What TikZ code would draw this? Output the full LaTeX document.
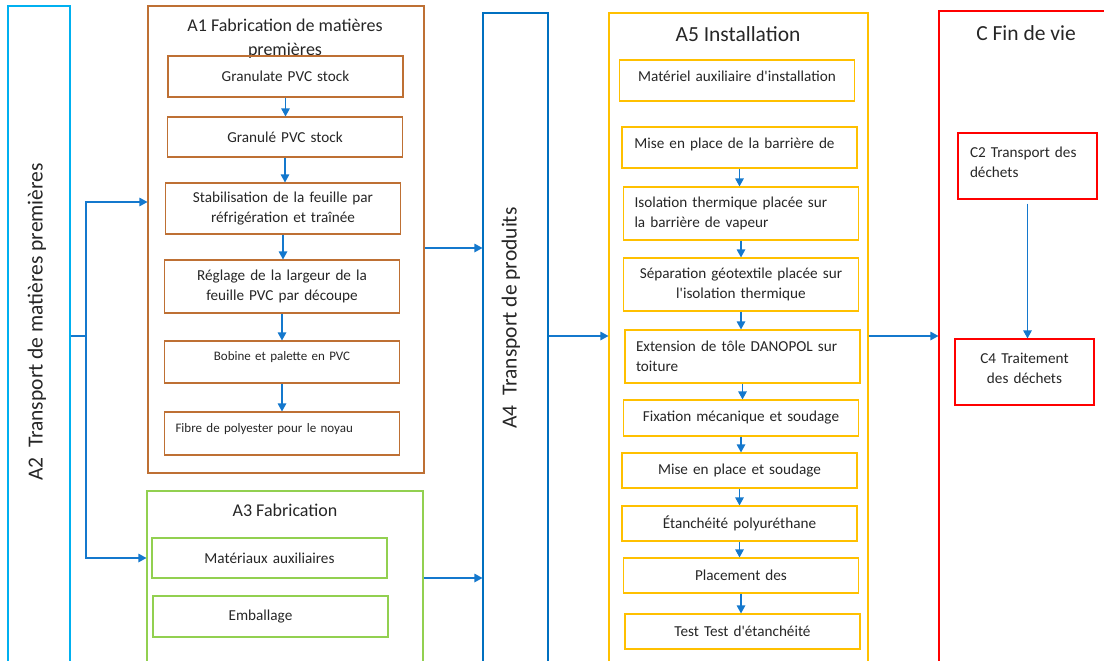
\documentclass[tikz,border=0pt]{standalone}
\usepackage{fontspec}
\setmainfont{Carlito}
\usepackage{xcolor}
\usepackage{tikz}
\usetikzlibrary{arrows.meta}

\definecolor{skyA}{RGB}{0,176,240}
\definecolor{brownA}{RGB}{190,112,52}
\definecolor{greenA}{RGB}{146,208,80}
\definecolor{blueA}{RGB}{0,112,192}
\definecolor{goldA}{RGB}{255,192,0}
\definecolor{redC}{RGB}{255,0,0}
\definecolor{flowblue}{RGB}{20,120,205}
\definecolor{txt}{RGB}{38,38,38}

\newcommand{\procfont}{\fontsize{15.2}{19.5}\selectfont}
\newcommand{\procsmall}{\fontsize{13}{16}\selectfont}
\newcommand{\stagefont}{\fontsize{18}{24}\selectfont}
\newcommand{\stagebig}{\fontsize{21.5}{26}\selectfont}

\begin{document}
\begin{tikzpicture}[x=1pt,y=-1pt,
	frame/.style={draw, line width=1.1pt, inner sep=0pt},
	pbox/.style={draw, line width=1.1pt, inner xsep=11pt, inner ysep=0pt, text width=213pt, align=center, font=\procfont, text=txt},
	cbox/.style={pbox, text width=115pt, inner xsep=12pt},
	stage/.style={font=\stagefont, text=txt, align=center, inner sep=0pt},
	flow/.style={draw=flowblue, line width=1.2pt, -{Triangle[length=8pt,width=8.5pt]}}]
		\useasboundingbox (0,0) rectangle (1104,661);
		\node[frame, draw=skyA, minimum width=62, minimum height=664] (a2) at (39,338) {};
		\node[stage, font=\stagebig, rotate=90] (a2t) at (37,322) {A2\ \ Transport de matières premières};
		\node[frame, draw=brownA, minimum width=276, minimum height=467] (a1) at (286,239.5) {};
		\node[stage] (a1t) at (285,39) {A1 Fabrication de matières\\premières};
		\node[pbox, draw=brownA, minimum height=41] (g1) at (285.5,76.5) {Granulate PVC stock};
		\node[pbox, draw=brownA, minimum height=40] (g2) at (285,137) {Granulé PVC stock};
		\node[pbox, draw=brownA, minimum height=51] (g3) at (283,208.5) {Stabilisation de la feuille par\\réfrigération et traînée};
		\node[pbox, draw=brownA, minimum height=53] (g4) at (282,286.5) {Réglage de la largeur de la\\feuille PVC par découpe};
		\node[pbox, draw=brownA, minimum height=42, font=\procsmall, text depth=12pt] (g5) at (282,362) {Bobine et palette en PVC};
		\node[pbox, draw=brownA, minimum height=43, font=\procsmall, align=left, text depth=12pt] (g6) at (282,433.5) {Fibre de polyester pour le noyau};
		\node[frame, draw=greenA, minimum width=276, minimum height=179] (a3) at (285,580.5) {};
		\node[stage] (a3t) at (285,510) {A3 Fabrication};
		\node[pbox, draw=greenA, minimum height=40] (m1) at (269.5,558) {Matériaux auxiliaires};
		\node[pbox, draw=greenA, minimum height=41] (m2) at (270.5,616.5) {Emballage\hspace*{20pt}};
		\node[frame, draw=blueA, minimum width=65, minimum height=657] (a4) at (515.5,341.5) {};
		\node[stage, font=\stagebig, rotate=90] (a4t) at (511,318) {A4\ \ Transport de produits};
		\node[frame, draw=goldA, minimum width=259, minimum height=657] (a5) at (738.5,341.5) {};
		\node[stage, font=\stagebig] (a5t) at (738,34) {A5 Installation};
		\node[pbox, draw=goldA, minimum height=41, text depth=8pt] (i1) at (737,80.5) {Matériel auxiliaire d\textquotesingle installation};
		\node[pbox, draw=goldA, minimum height=41, text depth=8pt] (i2) at (739.5,147.5) {Mise en place de la barrière de\hspace*{10pt}};
		\node[pbox, draw=goldA, minimum height=53, align=left] (i3) at (741,213.5) {Isolation thermique placée sur\\la barrière de vapeur};
		\node[pbox, draw=goldA, minimum height=53] (i4) at (741,284.5) {Séparation géotextile placée sur\\l\textquotesingle isolation thermique};
		\node[pbox, draw=goldA, minimum height=53, align=left] (i5) at (742.5,356.5) {Extension de tôle DANOPOL sur\\toiture};
		\node[pbox, draw=goldA, minimum height=36] (i6) at (741,418) {Fixation mécanique et soudage};
		\node[pbox, draw=goldA, minimum height=35] (i7) at (739.5,470.5) {Mise en place et soudage};
		\node[pbox, draw=goldA, minimum height=35] (i8) at (739.5,523.5) {Étanchéité polyuréthane};
		\node[pbox, draw=goldA, minimum height=35] (i9) at (741,575.5) {Placement des};
		\node[pbox, draw=goldA, minimum height=35] (i10) at (742.5,631.5) {Test Test d\textquotesingle étanchéité};
		\node[frame, draw=redC, minimum width=171, minimum height=659] (cc) at (1024.5,340.5) {};
		\node[stage, font=\stagebig] (cct) at (1026,33) {C Fin de vie};
		\node[cbox, draw=redC, minimum height=66, align=left, text depth=27pt] (c2) at (1027.5,166) {C2 Transport des\\déchets};
		\node[cbox, draw=redC, minimum height=66, text depth=27pt] (c4) at (1024.5,372) {C4 Traitement\\des déchets};
		\coordinate (split) at (86,336);
		\draw[flowblue, line width=1.2pt] (a2.east |- split) -- (split);
		\draw[flow] (split) |- (a1.west |- 0,202);
		\draw[flow] (split) |- (a3.west |- 0,558);
		\draw[flow] (a1.east |- 0,248) -- (a4.west |- 0,248);
		\draw[flow] (a3.east |- 0,578) -- (a4.west |- 0,578);
		\draw[flow] (a4.east |- 0,336) -- (a5.west |- 0,336);
		\draw[flow] (a5.east |- 0,336) -- (cc.west |- 0,336);
		\foreach \p/\q in {g1/g2,g2/g3,g3/g4,g4/g5,g5/g6,i2/i3,i3/i4,i4/i5,i5/i6,i6/i7,i7/i8,i8/i9,i9/i10}
			\draw[flow] (\p.south) -- (\p.south |- \q.north);
		\draw[flow] ([yshift=-4pt]c2.south) -- (c2.south |- c4.north);
\end{tikzpicture}
\end{document}
